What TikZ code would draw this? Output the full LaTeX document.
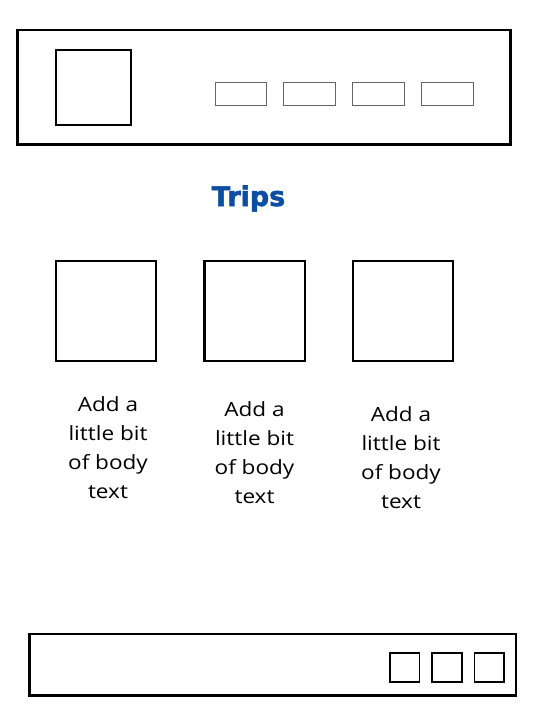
\documentclass[tikz,border=0pt]{standalone}
\usepackage{fontspec}
\setmainfont{Open Sans}[FakeStretch=1.15]
\newfontfamily\titlefont{DejaVu Sans}[BoldFeatures={FakeBold=2}]
\usepackage{tikz}
\definecolor{tripsblue}{HTML}{0B4EA2}

\begin{document}
\begin{tikzpicture}[x=1pt,y=-1pt]
% Fond de la page
\fill [color=white] (0,0) rectangle (545,706);
\useasboundingbox (0,0) rectangle (545,706);

% Bandeau du haut (entete)
\draw[line width=2.7pt] (17.3,30) rectangle (510.7,144.3);
\draw[line width=2.3pt] (55.7,50) rectangle (130.7,125); % logo
% boutons du menu
\draw[gray!80!black, line width=0.9pt] (215,82.3) rectangle (266.7,105);
\draw[gray!80!black, line width=0.9pt] (283.3,82.3) rectangle (335.7,105);
\draw[gray!80!black, line width=0.9pt] (352.3,82.3) rectangle (404.3,105);
\draw[gray!80!black, line width=0.9pt] (421.7,82.3) rectangle (473.3,105);

% Titre
\node[anchor=base, text=tripsblue, font=\titlefont\bfseries\fontsize{27}{30}\selectfont] (titre) at (248.5,206) {Trips};

% Les trois cartes
\draw[line width=2.3pt] (55.7,260.7) rectangle (155.7,361);
\draw[line width=2.3pt] (204.5,260.7) rectangle (304.7,361);
\draw[line width=2.3pt] (353.3,260.7) rectangle (453.3,361);

% Textes sous les cartes
\node[anchor=north, inner sep=0pt, align=center, font=\fontsize{19.6}{29}\selectfont] (texteA) at (108,396) {Add a\\little bit\\of body\\text};
\node[anchor=north, inner sep=0pt, align=center, font=\fontsize{19.6}{29}\selectfont] (texteB) at (254.5,401) {Add a\\little bit\\of body\\text};
\node[anchor=north, inner sep=0pt, align=center, font=\fontsize{19.6}{29}\selectfont] (texteC) at (401,406) {Add a\\little bit\\of body\\text};

% Pied de page
\draw[line width=2.5pt] (29.3,634) rectangle (516,695.7);
\draw[line width=1.6pt] (390,652.7) rectangle (419.3,682); % icones
\draw[line width=1.6pt] (431.7,652.7) rectangle (461.7,682);
\draw[line width=1.6pt] (474.3,652.7) rectangle (504,682);

\end{tikzpicture}
\end{document}
